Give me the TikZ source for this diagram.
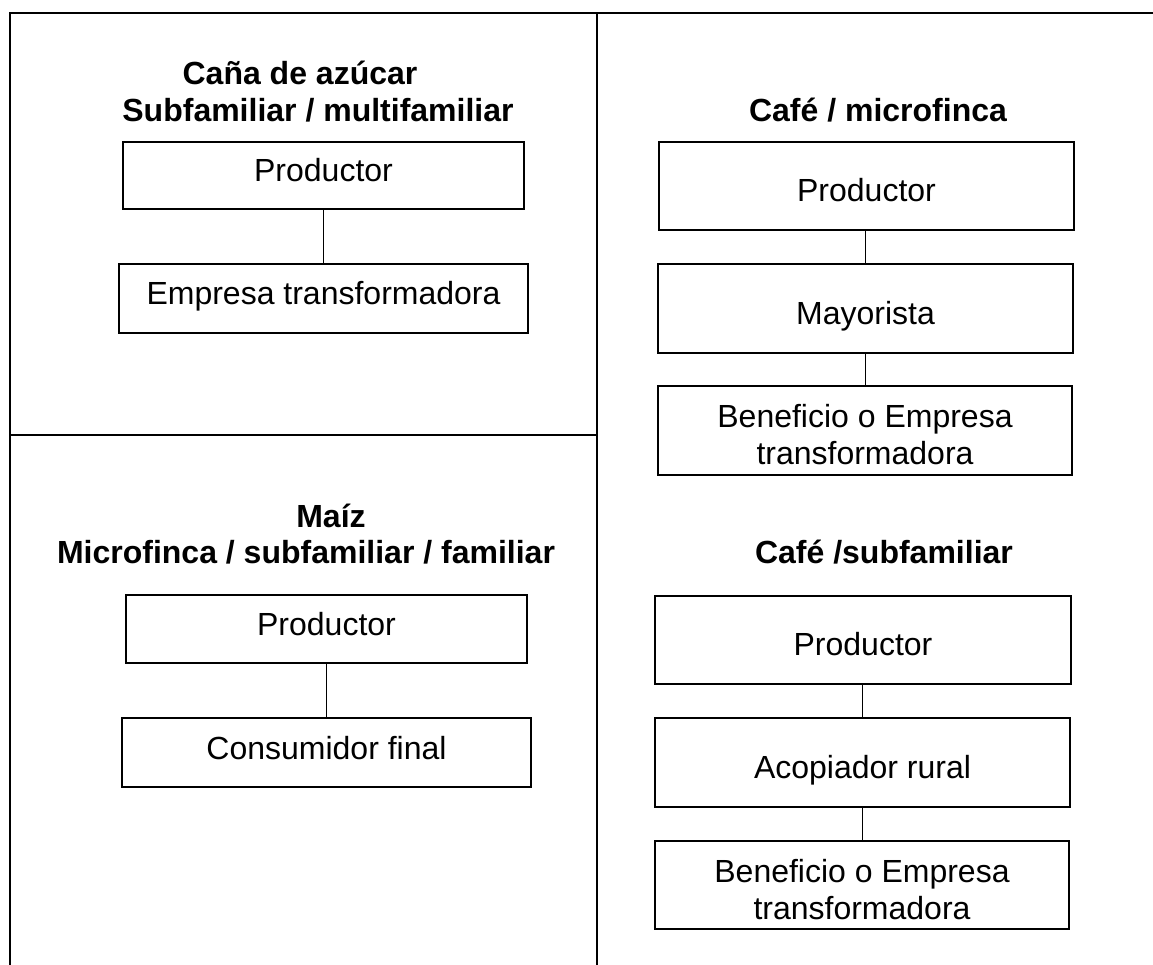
\documentclass[tikz,border=0pt]{standalone}
\usepackage{fontspec}
\setmainfont{Liberation Sans}
\begin{document}
\begin{tikzpicture}[x=1pt,y=-1pt,
  frame/.style={line width=2.6pt, line cap=rect},
  boxbase/.style={draw, line width=2.6pt, rectangle, inner sep=0pt,
    font=\fontsize{32pt}{37pt}\selectfont},
  boxL/.style={boxbase, text height=23pt, text depth=10pt},
  boxR/.style={boxbase, text height=40pt, text depth=9pt},
  boxT/.style={boxbase, align=center},
  title/.style={font=\fontsize{32pt}{37pt}\selectfont\bfseries, anchor=base, inner sep=0pt},
  link/.style={line width=1.8pt}]
\useasboundingbox (0,0) rectangle (1153,965);

% frame
\draw[frame] (1153,13) -- (10,13) -- (10,965);
\draw[frame] (597,13) -- (597,965);
\draw[frame] (10,435) -- (597,435);

% top-left: Caña de azúcar
\node[title] (t1a) at (300,85) {Caña de azúcar};
\node[title] (t1b) at (318,122) {Subfamiliar / multifamiliar};
\node[boxL, minimum width=401pt, minimum height=67pt] (p1) at (323.5,175.5) {Productor};
\node[boxL, minimum width=409pt, minimum height=69pt] (e1) at (323.5,298.5) {Empresa transformadora};
\draw[link] (p1.south) -- (p1.south |- e1.north);

% bottom-left: Maíz
\node[title] (t2a) at (331,527) {Maíz};
\node[title] (t2b) at (306,563) {Microfinca / subfamiliar / familiar};
\node[boxL, minimum width=401pt, minimum height=68pt] (p2) at (326.5,629) {Productor};
\node[boxL, minimum width=409pt, minimum height=69pt] (c2) at (326.5,752.5) {Consumidor final};
\draw[link] (p2.south) -- (p2.south |- c2.north);

% top-right: Café / microfinca
\node[title] (t3) at (878,122) {Café / microfinca};
\node[boxR, minimum width=415pt, minimum height=88pt] (p3) at (866.5,186) {Productor};
\node[boxR, minimum width=415pt, minimum height=89pt] (m3) at (865.5,308.5) {Mayorista};
\node[boxT, minimum width=414pt, minimum height=89pt] (b3) at (865,430.5) {\rule{0pt}{32pt}Beneficio o Empresa\\transformadora};
\draw[link] (m3.north) -- (m3.north |- p3.south);
\draw[link] (m3.south) -- (m3.south |- b3.north);

% bottom-right: Café /subfamiliar
\node[title] (t4) at (884,563) {Café /subfamiliar};
\node[boxR, minimum width=416pt, minimum height=88pt] (p4) at (863,640) {Productor};
\node[boxR, minimum width=415pt, minimum height=89pt] (a4) at (862.5,762.5) {Acopiador rural};
\node[boxT, minimum width=414pt, minimum height=88pt] (b4) at (862,885) {\rule{0pt}{32pt}Beneficio o Empresa\\transformadora};
\draw[link] (a4.north) -- (a4.north |- p4.south);
\draw[link] (a4.south) -- (a4.south |- b4.north);
\end{tikzpicture}
\end{document}
